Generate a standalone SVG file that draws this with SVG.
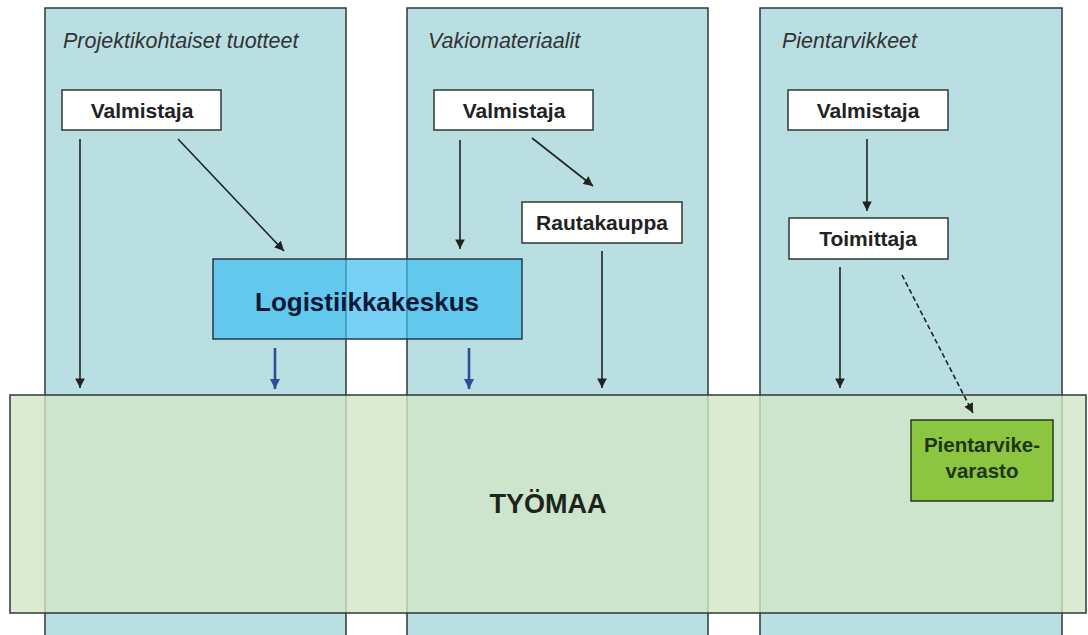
<svg xmlns="http://www.w3.org/2000/svg" width="1088" height="635" viewBox="0 0 1088 635">
<style>
.col{fill:#b9dfe3;stroke:#2e3838;stroke-width:1.5}
.title{font-family:"Liberation Sans",Arial,sans-serif;font-style:italic;font-size:21.5px;fill:#333}
.box{fill:#fff;stroke:#2e3838;stroke-width:1.5}
.lbl{font-family:"Liberation Sans",Arial,sans-serif;font-weight:bold;font-size:21px;fill:#222;text-anchor:middle}
.ln{stroke:#222;stroke-width:1.6;fill:none;marker-end:url(#ah)}
.bl{stroke:#2e4a9a;stroke-width:2.6;fill:none;marker-end:url(#ab)}
</style>
<defs>
<marker id="ah" viewBox="0 0 10 10" refX="10" refY="5" markerWidth="6" markerHeight="6" orient="auto" markerUnits="strokeWidth"><path d="M0,0 L10,5 L0,10 z" fill="#222"/></marker>
<marker id="ab" viewBox="0 0 10 10" refX="10" refY="5" markerWidth="4" markerHeight="4" orient="auto" markerUnits="strokeWidth"><path d="M0,0 L10,5 L0,10 z" fill="#2e4a9a"/></marker>
</defs>
<rect width="1088" height="635" fill="#fff"/>
<g id="col1"><rect class="col" x="45" y="8" width="301" height="640"/><text class="title" x="63" y="48">Projektikohtaiset tuotteet</text></g>
<g id="col2"><rect class="col" x="407" y="8" width="301" height="640"/><text class="title" x="428" y="48">Vakiomateriaalit</text></g>
<g id="col3"><rect class="col" x="760" y="8" width="302" height="640"/><text class="title" x="782" y="48">Pientarvikkeet</text></g>
<g id="valmistaja1"><rect class="box" x="62" y="90" width="159" height="40"/><text class="lbl" x="142" y="118">Valmistaja</text></g>
<g id="valmistaja2"><rect class="box" x="434" y="90" width="159" height="40"/><text class="lbl" x="514" y="118">Valmistaja</text></g>
<g id="valmistaja3"><rect class="box" x="788" y="90" width="160" height="40"/><text class="lbl" x="868" y="118">Valmistaja</text></g>
<g id="rautakauppa"><rect class="box" x="522" y="202" width="160" height="41"/><text class="lbl" x="602" y="230">Rautakauppa</text></g>
<g id="toimittaja"><rect class="box" x="789" y="218" width="159" height="41"/><text class="lbl" x="868" y="246">Toimittaja</text></g>
<g id="logistiikkakeskus"><rect x="213" y="259" width="309" height="80" fill="#3dbdf0" fill-opacity="0.7" stroke="#2a3848" stroke-width="1.5"/><text x="367" y="311" font-family="Liberation Sans,Arial,sans-serif" font-weight="bold" font-size="26" fill="#0c1838" text-anchor="middle">Logistiikkakeskus</text></g>
<g id="tyomaa"><rect x="10" y="395" width="1076" height="218" fill="#d1e6c6" fill-opacity="0.8" stroke="#2e3838" stroke-width="1.5"/><text x="548" y="513" font-family="Liberation Sans,Arial,sans-serif" font-weight="bold" font-size="27" fill="#1c241c" text-anchor="middle">TYÖMAA</text></g>
<g id="pientarvikevarasto"><rect x="911" y="420" width="142" height="81" fill="#8cc540" stroke="#2a3a1a" stroke-width="1.5"/><text font-family="Liberation Sans,Arial,sans-serif" font-weight="bold" font-size="20.5" fill="#1e3510" text-anchor="middle"><tspan x="982" y="452">Pientarvike-</tspan><tspan x="982" y="478">varasto</tspan></text></g>
<g id="connectors">
<line class="ln" x1="80" y1="139" x2="80" y2="388"/>
<line class="ln" x1="178" y1="139" x2="284" y2="251"/>
<line class="ln" x1="460" y1="140" x2="460" y2="249"/>
<line class="ln" x1="532" y1="138" x2="593" y2="186"/>
<line class="ln" x1="602" y1="251" x2="602" y2="388"/>
<line class="ln" x1="867" y1="139" x2="867" y2="211"/>
<line class="ln" x1="840" y1="267" x2="840" y2="388"/>
<line class="ln" x1="902" y1="275" x2="973" y2="413" stroke-dasharray="5,3"/>
<line class="bl" x1="275" y1="348" x2="275" y2="389"/>
<line class="bl" x1="469" y1="348" x2="469" y2="389"/>
</g>
</svg>
